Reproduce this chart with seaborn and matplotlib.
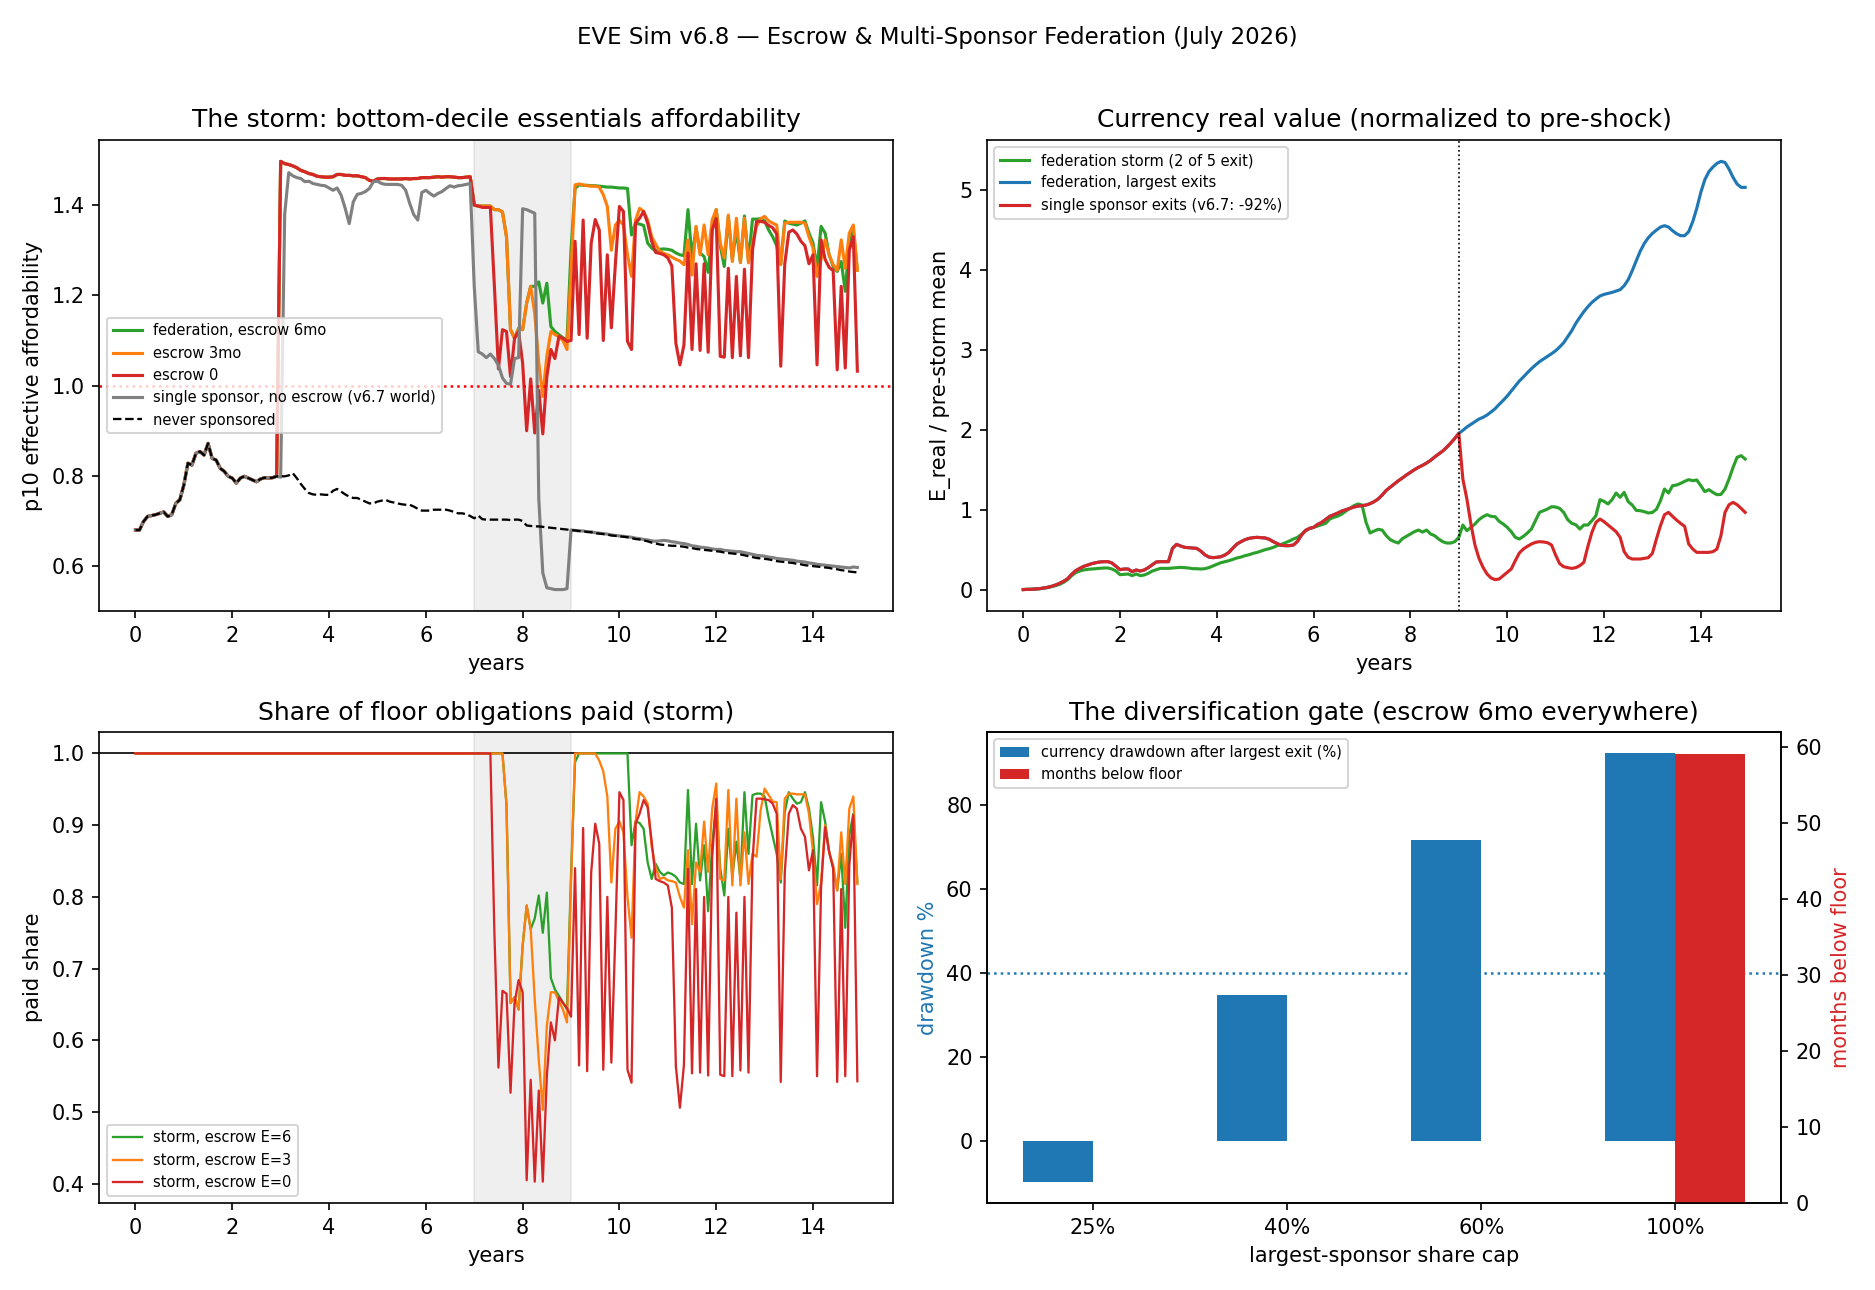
import numpy as np
import seaborn as sns
import matplotlib
matplotlib.use("Agg")
import matplotlib.pyplot as plt

# monthly time axis, 15 years
years = np.arange(180) / 12

# ---------- affordability (top left) ----------
# months 0-35: everyone identical
base_pre = [0.680, 0.680, 0.699, 0.710, 0.712, 0.714, 0.717, 0.720, 0.710, 0.714,
            0.739, 0.747, 0.780, 0.828, 0.824, 0.850, 0.854, 0.846, 0.872, 0.839,
            0.835, 0.817, 0.810, 0.799, 0.795, 0.784, 0.795, 0.799, 0.795, 0.791,
            0.787, 0.793, 0.796, 0.795, 0.796, 0.799]

never_tail = [0.799, 0.799, 0.801, 0.806, 0.795, 0.782, 0.771, 0.762, 0.759, 0.758,
              0.759, 0.758, 0.758, 0.767, 0.771, 0.765, 0.759, 0.754, 0.751, 0.751,
              0.747, 0.743, 0.739, 0.739, 0.743, 0.745, 0.747, 0.743, 0.741, 0.739,
              0.737, 0.736, 0.736, 0.732, 0.727, 0.723, 0.723, 0.723, 0.725, 0.725,
              0.725, 0.725, 0.723, 0.720, 0.717, 0.717, 0.715, 0.711, 0.706,
              0.712, 0.704, 0.703, 0.703, 0.703, 0.703, 0.703, 0.703, 0.702, 0.703,
              0.703, 0.700, 0.690, 0.689, 0.688, 0.688, 0.687, 0.686, 0.685, 0.684,
              0.683, 0.682, 0.681,
              0.680, 0.679, 0.678, 0.677, 0.676, 0.675, 0.673, 0.672, 0.671, 0.670,
              0.668, 0.667, 0.666, 0.665, 0.664, 0.662, 0.660, 0.659, 0.657, 0.655,
              0.652, 0.650, 0.648, 0.647, 0.646, 0.645, 0.645, 0.644, 0.643, 0.641,
              0.640, 0.638, 0.637, 0.636, 0.635, 0.634, 0.633, 0.632, 0.630, 0.629,
              0.628, 0.627, 0.626, 0.624, 0.622, 0.620, 0.618, 0.617, 0.616, 0.615,
              0.613, 0.611, 0.610, 0.609, 0.608, 0.607, 0.605, 0.604, 0.602, 0.601,
              0.600, 0.599, 0.598, 0.597, 0.596, 0.594, 0.593, 0.591, 0.590, 0.588,
              0.587, 0.586]

single_tail = [0.797, 1.380, 1.472, 1.465, 1.461, 1.459, 1.452, 1.453, 1.448, 1.446, 1.444, 1.443,
               1.438, 1.433, 1.438, 1.422, 1.393, 1.359, 1.407, 1.424, 1.426, 1.430,
               1.437, 1.452, 1.453, 1.448, 1.446, 1.446, 1.446, 1.446, 1.444, 1.433,
               1.404, 1.379, 1.367, 1.428, 1.433, 1.426, 1.420, 1.426, 1.430, 1.437,
               1.443, 1.440, 1.443, 1.444, 1.446, 1.448,
               1.220, 1.075, 1.070, 1.062, 1.070, 1.060, 1.045, 1.017, 1.005, 1.003,
               1.060, 1.062, 1.392, 1.390, 1.386, 1.382,
               0.750, 0.585, 0.552, 0.550, 0.548, 0.548, 0.548, 0.550,
               0.680, 0.679, 0.678, 0.678, 0.676, 0.676, 0.674, 0.673, 0.672, 0.671,
               0.669, 0.668, 0.667, 0.666, 0.665, 0.664, 0.662, 0.661, 0.659, 0.658,
               0.656, 0.655, 0.656, 0.657, 0.656, 0.654, 0.653, 0.651, 0.650, 0.648,
               0.645, 0.644, 0.642, 0.641, 0.640, 0.638, 0.637, 0.637, 0.635, 0.634,
               0.633, 0.632, 0.632, 0.630, 0.628, 0.626, 0.624, 0.623, 0.622, 0.620,
               0.619, 0.617, 0.616, 0.615, 0.614, 0.613, 0.611, 0.610, 0.609, 0.607,
               0.606, 0.604, 0.603, 0.602, 0.601, 0.600, 0.599, 0.598, 0.597, 0.596,
               0.598, 0.597]

# months 36-83: sponsored worlds before the storm
sponsored_pre = [1.497, 1.492, 1.490, 1.487, 1.483, 1.477, 1.474, 1.470, 1.468, 1.464,
                 1.463, 1.462, 1.462, 1.463, 1.468, 1.468, 1.466, 1.466, 1.465, 1.465,
                 1.463, 1.461, 1.455, 1.453, 1.458, 1.459, 1.459, 1.458, 1.458, 1.458,
                 1.458, 1.459, 1.458, 1.459, 1.459, 1.461, 1.461, 1.461, 1.462, 1.463,
                 1.462, 1.463, 1.463, 1.462, 1.461, 1.461, 1.462, 1.463]

# months 84-179
fed6_tail = [1.400, 1.398, 1.398, 1.398, 1.398, 1.390, 1.390, 1.385, 1.330, 1.124,
             1.105, 1.127, 1.124, 1.183, 1.220, 1.220, 1.230, 1.183, 1.227, 1.131,
             1.120, 1.113, 1.106, 1.100, 1.300, 1.437, 1.445, 1.444, 1.444, 1.443,
             1.443, 1.442, 1.441, 1.440, 1.440, 1.439, 1.438, 1.438, 1.437, 1.334,
             1.360, 1.358, 1.355, 1.316, 1.305, 1.298, 1.302, 1.303, 1.302, 1.300,
             1.294, 1.290, 1.288, 1.390, 1.283, 1.350, 1.294, 1.286, 1.251, 1.345,
             1.390, 1.310, 1.264, 1.375, 1.280, 1.345, 1.273, 1.376, 1.275, 1.369,
             1.369, 1.370, 1.365, 1.345, 1.330, 1.310, 1.270, 1.365, 1.360, 1.358,
             1.356, 1.360, 1.365, 1.338, 1.316, 1.260, 1.353, 1.338, 1.290, 1.264,
             1.253, 1.275, 1.209, 1.320, 1.345, 1.256]

esc3_tail = [1.400, 1.398, 1.398, 1.398, 1.398, 1.390, 1.390, 1.385, 1.330, 1.124,
             1.105, 1.127, 1.124, 1.183, 1.220, 1.160, 1.050, 0.976, 1.065, 1.120,
             1.113, 1.109, 1.100, 1.080, 1.250, 1.445, 1.447, 1.445, 1.443, 1.442,
             1.442, 1.440, 1.423, 1.397, 1.300, 1.356, 1.366, 1.356, 1.290, 1.242,
             1.367, 1.393, 1.386, 1.367, 1.330, 1.313, 1.298, 1.293, 1.290, 1.285,
             1.280, 1.276, 1.268, 1.323, 1.245, 1.353, 1.290, 1.356, 1.290, 1.367,
             1.390, 1.316, 1.283, 1.378, 1.275, 1.371, 1.273, 1.371, 1.272, 1.316,
             1.353, 1.370, 1.375, 1.365, 1.360, 1.356, 1.268, 1.360, 1.362, 1.362,
             1.362, 1.362, 1.360, 1.330, 1.305, 1.242, 1.280, 1.323, 1.290, 1.268,
             1.256, 1.323, 1.260, 1.338, 1.356, 1.256]

esc0_tail = [1.400, 1.398, 1.395, 1.395, 1.395, 1.220, 1.037, 1.124, 1.120, 1.020,
             1.105, 1.120, 1.050, 0.900, 1.015, 0.895, 0.990, 0.893, 1.020, 1.080,
             1.060, 1.109, 1.105, 1.098, 1.100, 1.320, 1.113, 1.367, 1.105, 1.316,
             1.368, 1.345, 1.100, 1.290, 1.128, 1.270, 1.397, 1.386, 1.098, 1.080,
             1.360, 1.371, 1.386, 1.360, 1.320, 1.295, 1.293, 1.290, 1.283, 1.265,
             1.094, 1.046, 1.090, 1.294, 1.080, 1.270, 1.078, 1.270, 1.074, 1.345,
             1.370, 1.065, 1.063, 1.260, 1.062, 1.242, 1.066, 1.258, 1.062, 1.300,
             1.364, 1.364, 1.362, 1.355, 1.350, 1.336, 1.043, 1.270, 1.340, 1.345,
             1.336, 1.320, 1.310, 1.270, 1.290, 1.046, 1.323, 1.280, 1.262, 1.255,
             1.035, 1.220, 1.039, 1.300, 1.330, 1.032]

afford_fed6 = base_pre + sponsored_pre + fed6_tail
afford_esc3 = base_pre + sponsored_pre + esc3_tail
afford_esc0 = base_pre + sponsored_pre + esc0_tail
afford_single = base_pre + single_tail
afford_never = base_pre + never_tail

# ---------- currency real value (top right) ----------
# months 0-108: single sponsor and largest-exit federation are the same
cur_pre = [0.0, 0.003, 0.003, 0.007, 0.011, 0.02, 0.028, 0.04, 0.057, 0.078,
           0.103, 0.136, 0.19, 0.236, 0.265, 0.29, 0.307, 0.324, 0.336, 0.345,
           0.349, 0.349, 0.332, 0.29, 0.249, 0.257, 0.257, 0.224, 0.245, 0.232,
           0.245, 0.274, 0.311, 0.345, 0.349, 0.349, 0.349, 0.515, 0.565, 0.545,
           0.528, 0.524, 0.52, 0.515, 0.482, 0.436, 0.407, 0.399, 0.403, 0.411,
           0.432, 0.465, 0.52, 0.57, 0.599, 0.624, 0.64, 0.649, 0.653, 0.649,
           0.645, 0.628, 0.599, 0.574, 0.553, 0.549, 0.549, 0.557, 0.603, 0.682,
           0.74, 0.765, 0.778, 0.815, 0.84, 0.878, 0.915, 0.936, 0.957, 0.982,
           0.998, 1.015, 1.032, 1.044, 1.049, 1.057, 1.074, 1.099, 1.132, 1.182,
           1.24, 1.28, 1.32, 1.36, 1.395, 1.432, 1.465, 1.499, 1.528, 1.553,
           1.582, 1.615, 1.657, 1.694, 1.732, 1.778, 1.832, 1.89, 1.953]

single_cur_tail = [1.382, 1.132, 0.82, 0.557, 0.39, 0.278, 0.195, 0.145, 0.124, 0.132,
                   0.174, 0.215, 0.257, 0.361, 0.457, 0.507, 0.54, 0.57, 0.59, 0.599,
                   0.595, 0.586, 0.557, 0.432, 0.324, 0.286, 0.274, 0.265, 0.274, 0.299,
                   0.34, 0.54, 0.715, 0.84, 0.882, 0.849, 0.807, 0.765, 0.724, 0.653,
                   0.474, 0.403, 0.382, 0.382, 0.382, 0.39, 0.399, 0.453, 0.632, 0.799,
                   0.936, 0.965, 0.915, 0.869, 0.827, 0.79, 0.57, 0.507, 0.465, 0.465,
                   0.465, 0.465, 0.474, 0.507, 0.674, 0.965, 1.061, 1.09, 1.061, 1.015, 0.965]

largest_cur_tail = [1.99, 2.032, 2.065, 2.098, 2.132, 2.153, 2.182, 2.22, 2.261, 2.315,
                    2.365, 2.419, 2.482, 2.545, 2.607, 2.657, 2.711, 2.761, 2.807, 2.849,
                    2.882, 2.915, 2.949, 2.986, 3.032, 3.086, 3.161, 3.236, 3.328, 3.403,
                    3.474, 3.536, 3.59, 3.632, 3.67, 3.69, 3.703, 3.715, 3.732, 3.749,
                    3.799, 3.874, 3.986, 4.111, 4.232, 4.328, 4.399, 4.453, 4.494, 4.532,
                    4.549, 4.532, 4.486, 4.449, 4.424, 4.424, 4.474, 4.599, 4.765, 4.965,
                    5.124, 5.224, 5.282, 5.328, 5.353, 5.34, 5.257, 5.153, 5.07, 5.028, 5.028]

fed_storm_cur = [0.0, 0.003, 0.004, 0.007, 0.011, 0.015, 0.024, 0.036, 0.049, 0.065,
                 0.09, 0.124, 0.174, 0.211, 0.232, 0.245, 0.253, 0.257, 0.261, 0.265,
                 0.27, 0.27, 0.257, 0.232, 0.186, 0.19, 0.195, 0.174, 0.195, 0.174,
                 0.182, 0.203, 0.232, 0.249, 0.265, 0.265, 0.265, 0.27, 0.274, 0.278,
                 0.274, 0.27, 0.261, 0.261, 0.257, 0.261, 0.274, 0.295, 0.315, 0.336,
                 0.349, 0.361, 0.378, 0.395, 0.407, 0.424, 0.436, 0.453, 0.465, 0.482,
                 0.499, 0.511, 0.528, 0.549, 0.565, 0.586, 0.607, 0.632, 0.653, 0.69,
                 0.732, 0.765, 0.778, 0.795, 0.811, 0.828, 0.882, 0.903, 0.919, 0.944,
                 0.982, 1.015, 1.049, 1.07, 1.057, 0.84, 0.707, 0.732, 0.753, 0.744,
                 0.674, 0.624, 0.599, 0.582, 0.636, 0.665, 0.695, 0.724, 0.744, 0.719,
                 0.744, 0.695, 0.674, 0.632, 0.599, 0.582, 0.582, 0.599, 0.653, 0.807,
                 0.736, 0.778, 0.82, 0.874, 0.911, 0.936, 0.915, 0.911, 0.853, 0.82,
                 0.778, 0.724, 0.653, 0.632, 0.665, 0.707, 0.757, 0.861, 0.965, 0.986,
                 1.007, 1.036, 1.032, 1.015, 0.965, 0.874, 0.828, 0.811, 0.757, 0.807,
                 0.807, 0.861, 0.924, 1.124, 1.103, 1.07, 1.124, 1.207, 1.153, 1.215,
                 1.099, 1.057, 0.99, 0.986, 0.974, 0.957, 0.965, 1.003, 1.111, 1.257,
                 1.207, 1.299, 1.307, 1.328, 1.353, 1.374, 1.361, 1.37, 1.299, 1.224,
                 1.249, 1.215, 1.186, 1.19, 1.257, 1.382, 1.528, 1.653, 1.674, 1.632]

cur_single = cur_pre + single_cur_tail
cur_largest = cur_pre + largest_cur_tail

# ---------- share of floor obligations paid (bottom left) ----------
paid_pre = [1.0] * 88  # months 0-87 fully paid in every world

paid_e6_tail = [1.0, 1.0, 1.0, 1.0, 0.928, 0.652, 0.66, 0.643, 0.732, 0.788,
                0.755, 0.77, 0.802, 0.75, 0.806, 0.687, 0.671, 0.662, 0.653, 0.643,
                0.83, 0.988, 1.0, 1.0, 1.0, 1.0, 1.0, 1.0, 1.0, 1.0,
                1.0, 1.0, 1.0, 1.0, 1.0, 0.872, 0.905, 0.903, 0.895, 0.848,
                0.825, 0.846, 0.835, 0.83, 0.834, 0.832, 0.828, 0.82, 0.818, 0.949,
                0.818, 0.902, 0.823, 0.872, 0.78, 0.872, 0.93, 0.84, 0.802, 0.895,
                0.828, 0.877, 0.825, 0.946, 0.86, 0.942, 0.944, 0.944, 0.94, 0.91,
                0.885, 0.86, 0.82, 0.918, 0.946, 0.937, 0.93, 0.932, 0.946, 0.923,
                0.883, 0.816, 0.932, 0.905, 0.863, 0.84, 0.809, 0.86, 0.757, 0.886,
                0.916, 0.82]

paid_e3_tail = [1.0, 1.0, 1.0, 1.0, 0.928, 0.652, 0.66, 0.643, 0.732, 0.788,
                0.755, 0.657, 0.573, 0.503, 0.62, 0.667, 0.667, 0.655, 0.643, 0.625,
                0.82, 1.0, 1.0, 1.0, 1.0, 1.0, 1.0, 0.99, 0.975, 0.94,
                0.82, 0.895, 0.905, 0.89, 0.80, 0.743, 0.905, 0.946, 0.94, 0.93,
                0.87, 0.84, 0.825, 0.827, 0.823, 0.822, 0.82, 0.80, 0.785, 0.865,
                0.762, 0.848, 0.835, 0.905, 0.835, 0.923, 0.958, 0.825, 0.823, 0.949,
                0.816, 0.937, 0.816, 0.89, 0.818, 0.86, 0.856, 0.92, 0.951, 0.942,
                0.933, 0.932, 0.825, 0.937, 0.944, 0.944, 0.943, 0.943, 0.943, 0.916,
                0.862, 0.79, 0.82, 0.9, 0.862, 0.844, 0.809, 0.89, 0.818, 0.923,
                0.94, 0.818]

paid_e0_tail = [1.0, 0.75, 0.562, 0.669, 0.665, 0.527, 0.652, 0.684, 0.667, 0.405,
                0.545, 0.403, 0.53, 0.403, 0.55, 0.625, 0.60, 0.66, 0.652, 0.645,
                0.633, 0.84, 0.565, 0.896, 0.557, 0.834, 0.902, 0.874, 0.559, 0.80,
                0.569, 0.75, 0.946, 0.935, 0.559, 0.541, 0.902, 0.916, 0.935, 0.925,
                0.877, 0.825, 0.822, 0.82, 0.816, 0.785, 0.564, 0.506, 0.566, 0.839,
                0.554, 0.811, 0.555, 0.80, 0.551, 0.855, 0.937, 0.552, 0.55, 0.80,
                0.55, 0.778, 0.558, 0.80, 0.555, 0.85, 0.937, 0.937, 0.936, 0.935,
                0.93, 0.916, 0.542, 0.834, 0.916, 0.928, 0.923, 0.895, 0.884, 0.837,
                0.865, 0.55, 0.813, 0.897, 0.863, 0.84, 0.542, 0.811, 0.55, 0.844,
                0.914, 0.543]

paid_e6 = paid_pre + paid_e6_tail
paid_e3 = paid_pre + paid_e3_tail
paid_e0 = paid_pre + paid_e0_tail

# ---------- diversification gate (bottom right) ----------
cap_labels = ['25%', '40%', '60%', '100%']
drawdown_pct = [-9.8, 34.8, 71.7, 92.3]
months_below = [0, 0, 0, 59]

# ---------- figure ----------
fig, axes = plt.subplots(2, 2, figsize=(12.5, 8.6), dpi=150)
fig.subplots_adjust(left=0.053, right=0.950, top=0.8915, bottom=0.0674,
                    wspace=0.118, hspace=0.257)
fig.suptitle("EVE Sim v6.8 \u2014 Escrow & Multi-Sponsor Federation (July 2026)", fontsize=11)

# a. the storm
ax = axes[0, 0]
ax.axvspan(7, 9, color='gray', alpha=0.12)
sns.lineplot(x=years, y=afford_fed6, ax=ax, color='tab:green', lw=1.5, label='federation, escrow 6mo')
sns.lineplot(x=years, y=afford_esc3, ax=ax, color='tab:orange', lw=1.5, label='escrow 3mo')
sns.lineplot(x=years, y=afford_esc0, ax=ax, color='tab:red', lw=1.5, label='escrow 0')
sns.lineplot(x=years, y=afford_single, ax=ax, color='gray', lw=1.5,
             label='single sponsor, no escrow (v6.7 world)')
sns.lineplot(x=years, y=afford_never, ax=ax, color='black', lw=1.1, ls='--', label='never sponsored')
ax.axhline(1.0, color='red', ls=':', lw=1.2)
ax.set_title("The storm: bottom-decile essentials affordability")
ax.set_xlabel("years")
ax.set_ylabel("p10 effective affordability")
ax.legend(loc='center left', fontsize=7)

# b. currency value
ax = axes[0, 1]
sns.lineplot(x=years, y=fed_storm_cur, ax=ax, color='tab:green', lw=1.5, label='federation storm (2 of 5 exit)')
sns.lineplot(x=years, y=cur_largest, ax=ax, color='tab:blue', lw=1.5, label='federation, largest exits')
sns.lineplot(x=years, y=cur_single, ax=ax, color='tab:red', lw=1.5, label='single sponsor exits (v6.7: -92%)')
ax.axvline(9, color='black', ls=':', lw=0.8)
ax.set_title("Currency real value (normalized to pre-shock)")
ax.set_xlabel("years")
ax.set_ylabel("E_real / pre-storm mean")
ax.legend(loc='upper left', fontsize=7)

# c. floor obligations paid
ax = axes[1, 0]
ax.axvspan(7, 9, color='gray', alpha=0.12)
ax.axhline(1.0, color='black', lw=0.8)
sns.lineplot(x=years, y=paid_e6, ax=ax, color='tab:green', lw=1.1, label='storm, escrow E=6')
sns.lineplot(x=years, y=paid_e3, ax=ax, color='tab:orange', lw=1.1, label='storm, escrow E=3')
sns.lineplot(x=years, y=paid_e0, ax=ax, color='tab:red', lw=1.1, label='storm, escrow E=0')
ax.set_title("Share of floor obligations paid (storm)")
ax.set_xlabel("years")
ax.set_ylabel("paid share")
ax.legend(loc='lower left', fontsize=7)

# d. diversification gate
ax = axes[1, 1]
pos = np.arange(len(cap_labels))
w = 0.36
ax.axhline(40, color='tab:blue', ls=':', lw=1.2, zorder=0)
b1 = ax.bar(pos - w / 2, drawdown_pct, w, color='tab:blue',
            label='currency drawdown after largest exit (%)')
ax.set_ylabel("drawdown %", color='tab:blue')
ax.set_xticks(pos)
ax.set_xticklabels(cap_labels)
ax.set_xlabel("largest-sponsor share cap")
ax2 = ax.twinx()
b2 = ax2.bar(pos + w / 2, months_below, w, color='tab:red', label='months below floor')
ax2.set_ylabel("months below floor", color='tab:red')
ax.legend([b1, b2], [b1.get_label(), b2.get_label()], loc='upper left', fontsize=7)
ax.set_title("The diversification gate (escrow 6mo everywhere)")

plt.savefig("out.png", dpi=150)
